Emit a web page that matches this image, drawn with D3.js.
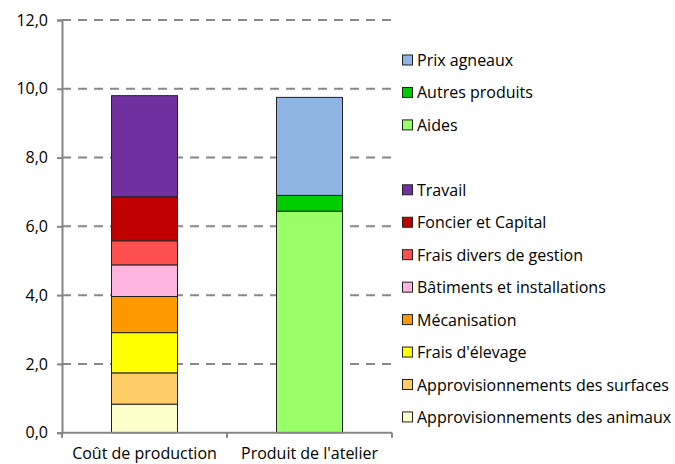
<!DOCTYPE html>
<html><head><meta charset="utf-8">
<script src="https://cdn.jsdelivr.net/npm/d3@7"></script>
<style>body{margin:0;background:#fff;}svg{display:block;font-family:"Open Sans",sans-serif;}</style>
</head><body>
<svg id="c" width="675" height="464"></svg>
<script>
const categories = ["Coût de production", "Produit de l'atelier"];
const costSeries = ["Approvisionnements des animaux","Approvisionnements des surfaces","Frais d'élevage","Mécanisation","Bâtiments et installations","Frais divers de gestion","Foncier et Capital","Travail"];
const costValues = [0.83, 0.91, 1.17, 1.05, 0.92, 0.70, 1.28, 2.94];
const costColors = ["#FFFFCC","#FFCC66","#FFFF00","#FF9900","#FFB3DE","#FF5050","#C00000","#7030A0"];
const prodSeries = ["Aides","Autres produits","Prix agneaux"];
const prodValues = [6.44, 0.46, 2.85];
const prodColors = ["#99FF66","#00CC00","#8EB4E3"];
const yTicks = [0,2,4,6,8,10,12];
const legendOrder = ["Prix agneaux","Autres produits","Aides","","Travail","Foncier et Capital","Frais divers de gestion","Bâtiments et installations","Mécanisation","Frais d'élevage","Approvisionnements des surfaces","Approvisionnements des animaux"];

const svg = d3.select("#c");
const x0 = 62, x1 = 392, yTop = 20, yBot = 432.7;
const y = d3.scaleLinear().domain([0,12]).range([yBot, yTop]);
const x = d3.scaleBand().domain(categories).range([x0, x1]).paddingInner(0).paddingOuter(0);
const barW = 66;
const FS = 16;

// gridlines
svg.append("g").selectAll("line").data(yTicks.filter(d=>d>0)).join("line")
  .attr("x1", x0).attr("x2", x1).attr("y1", d=>y(d)).attr("y2", d=>y(d))
  .attr("stroke","#888").attr("stroke-width",2).attr("stroke-dasharray","9,7");

const colorOf = {};
costSeries.forEach((s,i)=>colorOf[s]=costColors[i]);
prodSeries.forEach((s,i)=>colorOf[s]=prodColors[i]);

function drawStack(cat, names, vals){
  let acc = 0;
  const segs = vals.map((v,i)=>{const s={name:names[i], y0:acc, y1:acc+v}; acc+=v; return s;});
  const cx = x(cat) + x.bandwidth()/2;
  svg.append("g").selectAll("rect").data(segs).join("rect")
    .attr("x", cx - barW/2).attr("width", barW)
    .attr("y", d=>y(d.y1)).attr("height", d=>y(d.y0)-y(d.y1))
    .attr("fill", d=>colorOf[d.name]).attr("stroke","#222").attr("stroke-width",1);
}
drawStack(categories[0], costSeries, costValues);
drawStack(categories[1], prodSeries, prodValues);

// y axis
const ya = svg.append("g").attr("transform",`translate(${x0},0)`)
  .call(d3.axisLeft(y).tickValues(yTicks).tickSize(5).tickFormat(d=>d3.format(".1f")(d).replace(".",",")));
ya.select(".domain").attr("stroke","#868686").attr("stroke-width",2);
ya.selectAll(".tick line").attr("stroke","#868686").attr("stroke-width",2);
ya.selectAll(".tick text").attr("font-size",FS).attr("font-family","Open Sans, sans-serif").attr("fill","#000").attr("x",-14);

// x axis
const xa = svg.append("g").attr("transform",`translate(0,${yBot})`);
xa.append("line").attr("x1",x0).attr("x2",x1).attr("stroke","#868686").attr("stroke-width",2);
xa.selectAll("line.t").data([x0, x0 + x.bandwidth(), x1]).join("line").attr("class","t")
  .attr("x1",d=>d).attr("x2",d=>d).attr("y1",0).attr("y2",5).attr("stroke","#868686").attr("stroke-width",2);
xa.selectAll("text").data(categories).join("text")
  .attr("x", d=>x(d)+x.bandwidth()/2).attr("y", 26.5)
  .attr("text-anchor","middle").attr("font-size",FS).attr("fill","#000").text(d=>d);

// legend
const lg = svg.append("g").selectAll("g").data(legendOrder).join("g")
  .attr("transform",(d,i)=>`translate(402,${60 + i*32.45})`);
lg.filter(d=>d!=="").append("rect").attr("x",0.5).attr("y",-5).attr("width",10).attr("height",10)
  .attr("fill",d=>colorOf[d]).attr("stroke","#222").attr("stroke-width",1);
lg.filter(d=>d!=="").append("text").attr("x",15).attr("y",6).attr("font-size",FS).attr("fill","#000").text(d=>d);
</script>
</body></html>
